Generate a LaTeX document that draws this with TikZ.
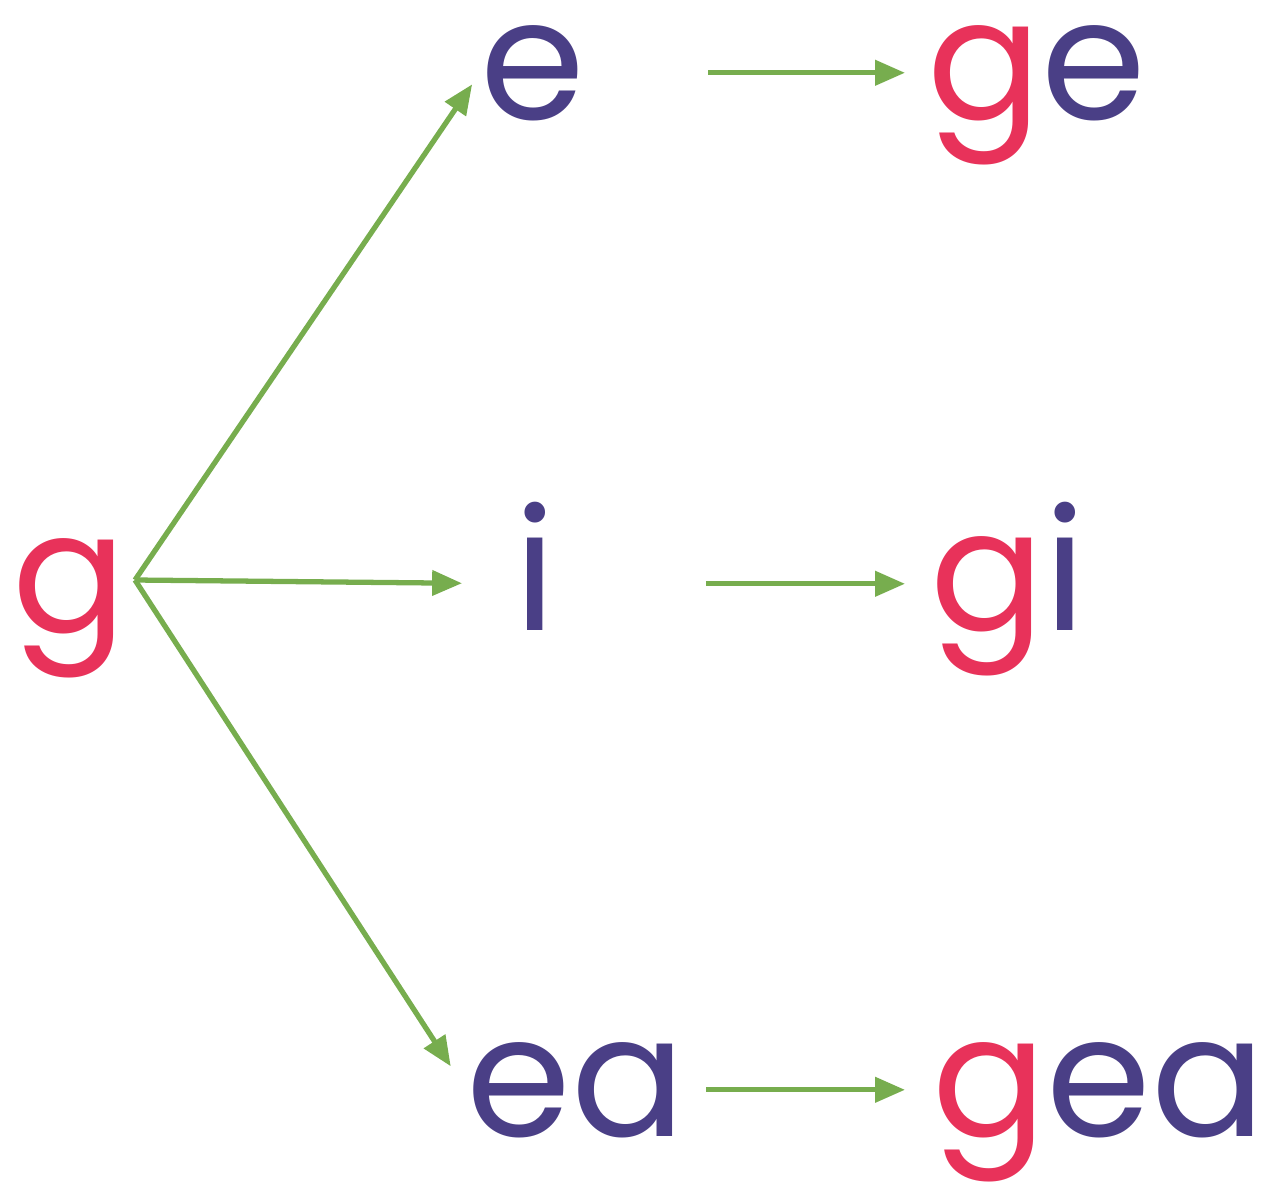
\documentclass[tikz,border=0pt]{standalone}
\usepackage{fontspec}
\setmainfont{Poppins}
\usetikzlibrary{arrows.meta}
\definecolor{lred}{HTML}{E8325A}
\definecolor{lpurple}{HTML}{4A3F86}
\definecolor{lgreen}{HTML}{77AD4E}
\newcommand{\bigletters}{\fontsize{48}{56}\selectfont}

\begin{document}
\bigletters
\begin{tikzpicture}[
    letter/.style={anchor=base west, inner sep=0pt, text=lpurple,
      font=\bigletters},
    arr/.style={draw=lgreen, line width=1.5pt,
      -{Triangle[length=8.5pt, width=7pt]}}]
  \useasboundingbox (0, 0) rectangle (12.71, -11.81);
  % stem
  \node[letter, text=lred] (g) at (0.12, -6.32) {g};
  \coordinate (fan) at (1.35, -5.80);
  % middle column
  \node[letter] (e) at (4.80, -1.19) {e};
  \node[letter] (i) at (5.14, -6.30) {i};
  \node[letter] (ea) at (4.66, -11.36) {ea};
  % right column
  \node[letter] (ge) at (9.27, -1.19) {\textcolor{lred}{g}e};
  \node[letter] (gi) at (9.30, -6.30) {\textcolor{lred}{g}i};
  \node[letter] (gea) at (9.32, -11.36) {\textcolor{lred}{g}ea};
  % fan out
  \draw[arr, shorten >=0.14cm] (fan) -- (e.mid west);
  \draw[arr, shorten >=0.52cm] (fan) -- (i.mid west);
  \draw[arr, shorten >=0.28cm] (fan) -- (ea.mid west);
  % attach the g
  \draw[arr, shorten <=1.22cm, shorten >=0.22cm] (e.mid east) -- (ge.mid west);
  \draw[arr, shorten <=1.49cm, shorten >=0.25cm] (i.mid east) -- (gi.mid west);
  \draw[arr, shorten <=0.20cm, shorten >=0.27cm] (ea.mid east) -- (gea.mid west);
\end{tikzpicture}
\end{document}
